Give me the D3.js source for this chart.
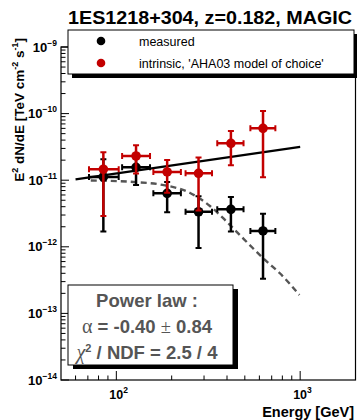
<!DOCTYPE html>
<html><head><meta charset="utf-8">
<script src="https://cdn.jsdelivr.net/npm/d3@7"></script>
<style>body{margin:0;background:#fff}svg{display:block}</style>
</head><body>
<svg id="c" width="357" height="420"></svg>
<script>
// ---- data ----
const energy      = [85, 128, 189, 280, 420, 628];            // GeV
const binLow      = [71, 107.5, 159, 238, 354, 536];
const binHigh     = [103, 152.5, 224.5, 331.5, 492, 733];
const measured    = [1.12e-11, 1.56e-11, 6.35e-12, 3.36e-12, 3.65e-12, 1.73e-12];
const measuredErr = [0.95e-11, 0.71e-11, 3.05e-12, 2.4e-12, 1.95e-12, 1.4e-12];
const intrinsic   = [1.46e-11, 2.31e-11, 1.33e-11, 1.27e-11, 3.58e-11, 6.01e-11];
const intrinsicErr= [1.17e-11, 1.05e-11, 0.68e-11, 0.92e-11, 1.9e-11, 4.9e-11];
const fitE        = [60, 1000];
const fitFlux     = [1.03e-11, 3.17e-11];
const modelE      = [72.6, 124, 173.6, 252, 323, 380, 470, 552, 657, 773, 990];
const modelFlux   = [9.9e-12, 9.4e-12, 8.61e-12, 6.43e-12, 4.10e-12, 2.71e-12, 1.50e-12, 9.6e-13, 6.02e-13, 4.04e-13, 1.89e-13];
const yTickExps   = [-9, -10, -11, -12, -13, -14];
const xTickExps   = [2, 3];
const title       = "1ES1218+304, z=0.182, MAGIC";
const legendLabels= ["measured", "intrinsic, 'AHA03 model of choice'"];
const statsLines  = ["Power law :", "-0.40", "0.84", "2.5 / 4"];

// ---- layout ----
const svg = d3.select("#c");
const L = 61, R = 355.5, T = 47, B = 380;
const x = d3.scaleLog().domain([50, 2000]).range([L, R]);
const y = d3.scaleLog().domain([1e-14, 1e-9]).range([B, T]);
const RED = "#c30000";
const FONT = "'Liberation Sans', Arial, Helvetica, sans-serif";

// frame
svg.append("rect").attr("x", L).attr("y", T).attr("width", R - L).attr("height", B - T)
  .attr("fill", "none").attr("stroke", "#000").attr("stroke-width", 1.2);

// y ticks (inside, left)
const yMinor = [];
for (let e = -14; e < -9; e++) for (let m = 1; m < 10; m++) yMinor.push({v: m * Math.pow(10, e), major: m === 1});
yMinor.push({v: 1e-9, major: true});
svg.append("g").selectAll("line").data(yMinor).join("line")
  .attr("x1", L).attr("x2", d => L + (d.major ? 8 : 4.5))
  .attr("y1", d => y(d.v)).attr("y2", d => y(d.v))
  .attr("stroke", "#000").attr("stroke-width", 1);

// x ticks (inside, bottom)
const xMinor = [];
for (let e = 1; e < 4; e++) for (let m = 1; m < 10; m++) {
  const v = m * Math.pow(10, e);
  if (v > 50 && v < 2000) xMinor.push({v, major: m === 1});
}
svg.append("g").selectAll("line").data(xMinor).join("line")
  .attr("x1", d => x(d.v)).attr("x2", d => x(d.v))
  .attr("y1", B).attr("y2", d => B - (d.major ? 9 : 4.5))
  .attr("stroke", "#000").attr("stroke-width", 1);

// y tick labels
yTickExps.forEach(e => {
  const t = svg.append("text").attr("x", 57).attr("y", y(Math.pow(10, e)) + 4.5)
    .attr("text-anchor", "end").attr("font-family", FONT).attr("font-weight", "bold")
    .attr("font-size", 13);
  t.append("tspan").text("10");
  t.append("tspan").attr("dy", -6).attr("font-size", 8.5).text(String(e).replace("-", "\u2212"));
});
// x tick labels
xTickExps.forEach(e => {
  const t = svg.append("text").attr("x", x(Math.pow(10, e)) - 7).attr("y", 399)
    .attr("font-family", FONT).attr("font-weight", "bold").attr("font-size", 12.5);
  t.append("tspan").text("10");
  t.append("tspan").attr("dy", -6).attr("font-size", 8.5).text(e);
});

// axis titles
svg.append("text").attr("x", 354).attr("y", 417).attr("text-anchor", "end")
  .attr("font-family", FONT).attr("font-weight", "bold").attr("font-size", 14.5).text("Energy [GeV]");
{
  const t = svg.append("text").attr("transform", "translate(24,38) rotate(-90)")
    .attr("text-anchor", "end").attr("font-family", FONT).attr("font-weight", "bold").attr("font-size", 13.5);
  t.append("tspan").text("E");
  t.append("tspan").attr("dy", -6).attr("font-size", 9).text("2");
  t.append("tspan").attr("dy", 6).text(" dN/dE [TeV cm");
  t.append("tspan").attr("dy", -6).attr("font-size", 9).text("-2");
  t.append("tspan").attr("dy", 6).text(" s");
  t.append("tspan").attr("dy", -6).attr("font-size", 9).text("-1");
  t.append("tspan").attr("dy", 6).text("]");
}

// title
svg.append("text").attr("x", 68).attr("y", 24)
  .attr("font-family", FONT).attr("font-weight", "bold").attr("font-size", 18.5)
  .attr("textLength", 284).attr("lengthAdjust", "spacingAndGlyphs").text(title);

// clip
svg.append("clipPath").attr("id", "pc").append("rect")
  .attr("x", L).attr("y", T).attr("width", R - L).attr("height", B - T);
const pg = svg.append("g").attr("clip-path", "url(#pc)");

// dashed model line
pg.append("path")
  .datum(modelE.map((e, i) => [e, modelFlux[i]]))
  .attr("d", d3.line().x(d => x(d[0])).y(d => y(d[1])).curve(d3.curveMonotoneX))
  .attr("fill", "none").attr("stroke", "#555").attr("stroke-width", 2.4)
  .attr("stroke-dasharray", "6,4");

// fit line
pg.append("path")
  .datum(fitE.map((e, i) => [e, fitFlux[i]]))
  .attr("d", d3.line().x(d => x(d[0])).y(d => y(d[1])))
  .attr("fill", "none").attr("stroke", "#000").attr("stroke-width", 2.2);

// points with error bars
function drawSeries(vals, errs, color) {
  const g = pg.append("g").attr("stroke", color).attr("fill", color);
  const cap = 3;
  energy.forEach((e, i) => {
    const cx = x(e), cy = y(vals[i]);
    const yt = y(vals[i] + errs[i]);
    const lo = vals[i] - errs[i];
    const yb = lo > 1e-14 ? y(lo) : B;
    const xl = x(binLow[i]), xr = x(binHigh[i]);
    g.append("line").attr("x1", cx).attr("x2", cx).attr("y1", yt).attr("y2", yb).attr("stroke-width", 2.5);
    g.append("line").attr("x1", xl).attr("x2", xr).attr("y1", cy).attr("y2", cy).attr("stroke-width", 2.5);
    g.append("line").attr("x1", cx - cap).attr("x2", cx + cap).attr("y1", yt).attr("y2", yt).attr("stroke-width", 2);
    if (lo > 1e-14) g.append("line").attr("x1", cx - cap).attr("x2", cx + cap).attr("y1", yb).attr("y2", yb).attr("stroke-width", 2);
    g.append("line").attr("x1", xl).attr("x2", xl).attr("y1", cy - cap).attr("y2", cy + cap).attr("stroke-width", 2);
    g.append("line").attr("x1", xr).attr("x2", xr).attr("y1", cy - cap).attr("y2", cy + cap).attr("stroke-width", 2);
    g.append("circle").attr("cx", cx).attr("cy", cy).attr("r", 4.8).attr("stroke", "none");
  });
}
drawSeries(measured, measuredErr, "#000");
drawSeries(intrinsic, intrinsicErr, RED);

// legend
{
  const lx = 68, ly = 30, lw = 286, lh = 44;
  svg.append("rect").attr("x", lx + 4).attr("y", ly + 4).attr("width", lw).attr("height", lh).attr("fill", "#000");
  svg.append("rect").attr("x", lx).attr("y", ly).attr("width", lw).attr("height", lh)
    .attr("fill", "#fff").attr("stroke", "#000").attr("stroke-width", 1);
  const cols = ["#000", RED];
  legendLabels.forEach((s, i) => {
    const yy = 41 + i * 22;
    svg.append("circle").attr("cx", 101).attr("cy", yy).attr("r", 4.3).attr("fill", cols[i]);
    svg.append("text").attr("x", 139).attr("y", yy + 4.5).attr("font-family", FONT)
      .attr("font-size", 12.5).attr("fill", "#000").text(s);
  });
}

// stats box
{
  const bx = 68, by = 285, bw = 165, bh = 80;
  svg.append("rect").attr("x", bx + 5).attr("y", by + 4).attr("width", bw).attr("height", bh).attr("fill", "#000");
  svg.append("rect").attr("x", bx).attr("y", by).attr("width", bw).attr("height", bh)
    .attr("fill", "#fff").attr("stroke", "#000").attr("stroke-width", 1);
  const cx = 147, col = "#555", fs = 18.5;
  svg.append("text").attr("x", cx).attr("y", 306.5).attr("text-anchor", "middle")
    .attr("font-family", FONT).attr("font-weight", "bold").attr("font-size", fs).attr("fill", col).text(statsLines[0]);
  const t2 = svg.append("text").attr("x", cx).attr("y", 333).attr("text-anchor", "middle")
    .attr("font-family", FONT).attr("font-weight", "bold").attr("font-size", fs).attr("fill", col);
  t2.append("tspan").attr("font-family", "'Liberation Serif', serif").attr("font-weight", "normal").attr("font-size", 20).text("\u03b1");
  t2.append("tspan").text(" = " + statsLines[1] + " ");
  t2.append("tspan").attr("font-family", "'Liberation Serif', serif").attr("font-weight", "normal").text("\u00b1");
  t2.append("tspan").text(" " + statsLines[2]);
  const t3 = svg.append("text").attr("x", cx).attr("y", 359).attr("text-anchor", "middle")
    .attr("font-family", FONT).attr("font-weight", "bold").attr("font-size", fs).attr("fill", col);
  t3.append("tspan").attr("font-family", "'Liberation Serif', serif").attr("font-weight", "normal").attr("font-style", "italic").attr("font-size", 20).text("\u03c7");
  t3.append("tspan").attr("dy", -7).attr("font-size", 11).text("2");
  t3.append("tspan").attr("dy", 7).text(" / NDF = " + statsLines[3]);
}
</script>
</body></html>
